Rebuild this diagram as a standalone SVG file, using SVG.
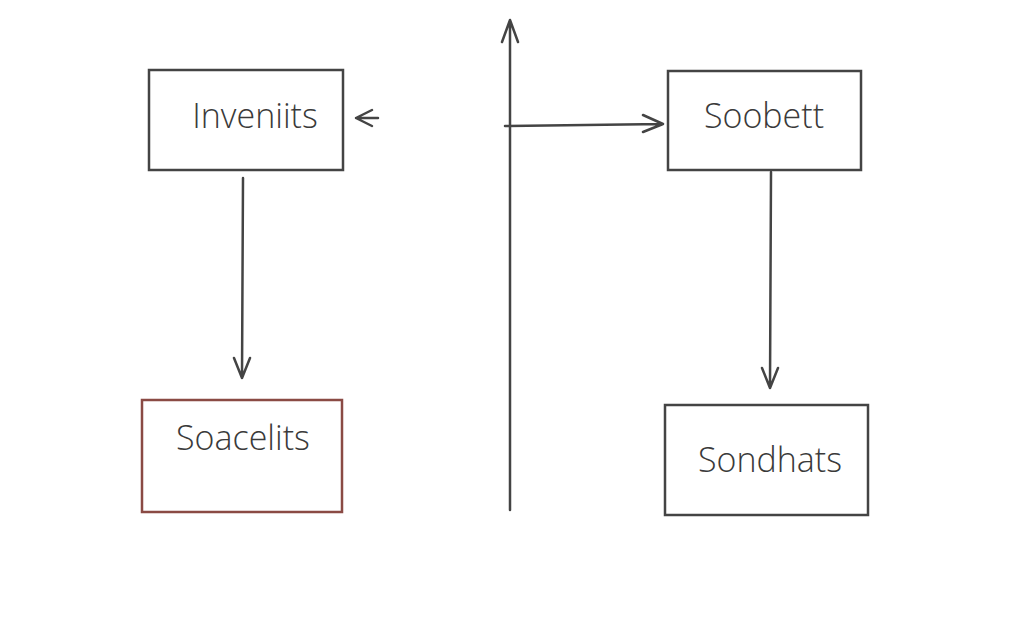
<svg xmlns="http://www.w3.org/2000/svg" width="1024" height="628" viewBox="0 0 1024 628">
<style>
.box{fill:#fff;stroke:#444;stroke-width:2.5}
.red{stroke:#8a4a44}
.t{font-family:"Open Sans","Liberation Sans",sans-serif;font-weight:300;font-size:34px;fill:#3a3a3a;text-anchor:middle;dominant-baseline:middle}
.c{stroke:#444;stroke-width:2.5;fill:none;stroke-linecap:round;stroke-linejoin:round}
</style>
<rect width="1024" height="628" fill="#fff"/>
<g id="connectors">
<path class="c" d="M510 510 L510 20 M502 42 L510 20 L518 42"/>
<path class="c" d="M505 126 L663 124 M643 115 L663 124 L643 132"/>
<path class="c" d="M378 118 L356 118 M372 110 L356 118 L372 126"/>
<path class="c" d="M243 178 L242 378 M234 358 L242 378 L250 358"/>
<path class="c" d="M771 172 L770 388 M762 368 L770 388 L778 368"/>
</g>
<g id="inveniits"><rect class="box" x="149" y="70" width="194" height="100"/><text class="t" x="255" y="119">Inveniits</text></g>
<g id="soacelits"><rect class="box red" x="142" y="400" width="200" height="112"/><text class="t" x="243" y="441">Soacelits</text></g>
<g id="soobett"><rect class="box" x="668" y="71" width="193" height="99"/><text class="t" x="764" y="119">Soobett</text></g>
<g id="sondhats"><rect class="box" x="665" y="405" width="203" height="110"/><text class="t" x="770" y="463">Sondhats</text></g>
</svg>
